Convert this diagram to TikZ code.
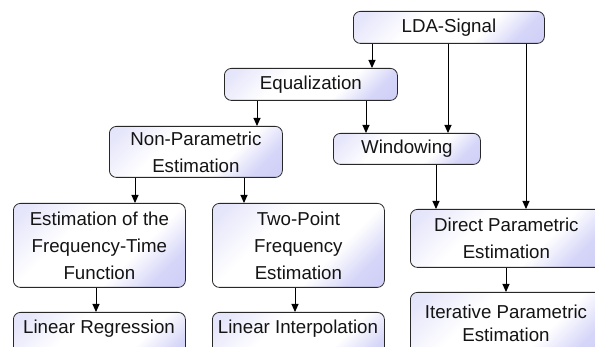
\documentclass[tikz,border=0pt]{standalone}
\usepackage{fontspec}
\setmainfont{Liberation Sans}
\usetikzlibrary{arrows.meta}
\definecolor{lav}{RGB}{196,196,246}
\definecolor{lavl}{RGB}{214,214,248}
\definecolor{edge}{RGB}{40,40,40}
\definecolor{txt}{RGB}{20,20,20}
\pgfdeclareverticalshading{boxshade}{100bp}{color(0bp)=(lav); color(25bp)=(lav!70!white); color(38bp)=(white); color(62bp)=(white); color(80bp)=(lavl!60!white); color(100bp)=(lavl)}
\tikzset{
  box/.style={draw=edge, line width=0.8pt, rounded corners=7pt, anchor=north west,
    shading=boxshade, shading angle=45,
    inner sep=0pt, align=center, text=txt, font=\fontsize{18.7}{27}\selectfont},
  lbl/.style={inner sep=0pt, align=center, text=txt, font=\fontsize{18.7}{23}\selectfont},
  arr/.style={draw=black, line width=0.9pt, -{Triangle[width=7pt,length=8pt]}}
}
\begin{document}
\begin{tikzpicture}[x=1pt,y=-1pt]
\useasboundingbox (0,0) rectangle (595,347);
\clip (0,0) rectangle (595,347);
\fill[white] (0,0) rectangle (595,347);
% boxes
\node[box, minimum width=191pt, minimum height=32pt] (lda) at (353,11) {LDA-Signal};
\node[box, minimum width=173pt, minimum height=32pt] (eq) at (224,68) {Equalization};
\node[box, minimum width=173pt, minimum height=51pt] (np) at (109,126) {Non-Parametric\\Estimation};
\node[box, minimum width=147pt, minimum height=31pt] (win) at (333,133) {Windowing};
\node[box, minimum width=172pt, minimum height=84pt] (ft) at (13,203) {Estimation of the\\Frequency-Time\\Function};
\node[box, minimum width=172pt, minimum height=84pt] (tp) at (212,203) {Two-Point\\Frequency\\Estimation};
\node[box, minimum width=192pt, minimum height=58pt] (dp) at (410,209) {Direct Parametric\\Estimation};
\node[box, minimum width=192pt, minimum height=70pt] (ip) at (410,292) {};
\node[box, minimum width=172pt, minimum height=60pt] (lr) at (13,312) {};
\node[box, minimum width=172pt, minimum height=60pt] (li) at (212,312) {};
% texts of cut boxes
\node[lbl] (ipt) at (506,323) {Iterative Parametric\\Estimation};
\node[lbl] (lrt) at (99,329) {Linear Regression};
\node[lbl] (lit) at (298,329) {Linear Interpolation};
% connectors
\draw[arr] (lda.south -| 372,0) -- (eq.north -| 372,0);
\draw[arr] (eq.south -| 257,0) -- (np.north -| 257,0);
\draw[arr] (lda.south -| 448,0) -- (win.north -| 448,0);
\draw[arr] (eq.south -| 366,0) -- (win.north -| 366,0);
\draw[arr] (lda.south -| 526,0) -- (dp.north -| 526,0);
\draw[arr] (win.south -| 436,0) -- (dp.north -| 436,0);
\draw[arr] (np.south -| 135,0) -- (ft.north -| 135,0);
\draw[arr] (np.south -| 244,0) -- (tp.north -| 244,0);
\draw[arr] (ft.south -| 96,0) -- (lr.north -| 96,0);
\draw[arr] (tp.south -| 295,0) -- (li.north -| 295,0);
\draw[arr] (dp.south -| 506,0) -- (ip.north -| 506,0);
\end{tikzpicture}
\end{document}
